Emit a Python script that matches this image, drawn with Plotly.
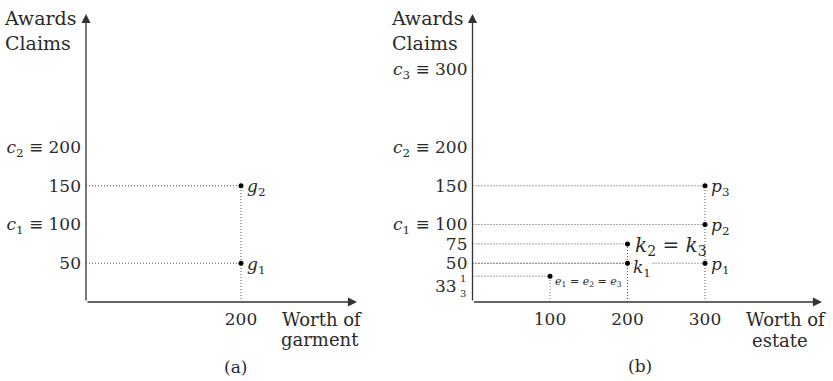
import plotly.graph_objects as go

# ---- data -------------------------------------------------------------
# (a) one garment worth 200, two claimants
garment_worth = [200, 200]
garment_awards = [50, 150]
garment_labels = ["<i>g</i><sub>1</sub>", "<i>g</i><sub>2</sub>"]
garment_claims = [100, 200]

# (b) estate of worth 100, 200, 300, three claimants
estate_worth = [100, 200, 200, 300, 300, 300]
estate_awards = [100 / 3, 50, 75, 50, 100, 150]
estate_claims = [100, 200, 300]

x_ticks_a = [200]
x_ticks_b = [100, 200, 300]
y_ticks_a = [50, 100, 150, 200]
y_text_a = ["50", "<i>c</i><sub>1</sub> \u2261 100", "150", "<i>c</i><sub>2</sub> \u2261 200"]
y_ticks_b = [50, 75, 100, 150, 200, 300]
y_text_b = ["50", "75", "<i>c</i><sub>1</sub> \u2261 100", "150",
            "<i>c</i><sub>2</sub> \u2261 200", "<i>c</i><sub>3</sub> \u2261 300"]

W, H = 833, 381
FONT = "DejaVu Serif"
INK = "#2a2a2a"
AXIS = "#333333"
GUIDE = "#555555"
SCALE = 0.775  # pixels per unit on both panels

def px(x):
    return x / W

def py(y):
    return 1 - y / H

# plotting areas (origin and arrow tips, in pixels)
A_X0, A_X1 = 86, 357
B_X0, B_X1 = 472.5, 822
Y0, Y1 = 302, 14

fig = go.Figure()

def guide(xs, ys, xa, ya, color=GUIDE):
    fig.add_trace(go.Scatter(x=xs, y=ys, mode="lines", xaxis=xa, yaxis=ya,
                             line=dict(color=color, width=1, dash="1px,2px"),
                             hoverinfo="skip", showlegend=False))

# panel (a) guides
for wx, aw in zip(garment_worth, garment_awards):
    guide([0, wx], [aw, aw], "x", "y")
guide([garment_worth[0], garment_worth[0]], [0, max(garment_awards)], "x", "y")

# panel (b) guides
for wx, aw in zip(estate_worth, estate_awards):
    guide([0, wx], [aw, aw], "x2", "y2")
for wx in sorted(set(estate_worth)):
    top = max(a for w_, a in zip(estate_worth, estate_awards) if w_ == wx)
    guide([wx, wx], [0, top], "x2", "y2", color="#777777" if wx == 100 else GUIDE)

# points
fig.add_trace(go.Scatter(x=garment_worth, y=garment_awards, mode="markers",
                         xaxis="x", yaxis="y", marker=dict(color="black", size=5),
                         hoverinfo="skip", showlegend=False))
fig.add_trace(go.Scatter(x=estate_worth, y=estate_awards, mode="markers",
                         xaxis="x2", yaxis="y2", marker=dict(color="black", size=5),
                         hoverinfo="skip", showlegend=False))

ann = []
shapes = []

# axes with arrowheads
for xr, yr, xmax, ymax in (("x", "y", (A_X1 - A_X0) / SCALE, (Y0 - Y1) / SCALE),
                           ("x2", "y2", (B_X1 - B_X0) / SCALE, (Y0 - Y1) / SCALE)):
    ann.append(dict(x=xmax, y=0, ax=0, ay=0, xref=xr, yref=yr, axref=xr, ayref=yr,
                    text="", showarrow=True, arrowhead=2, arrowsize=1.4,
                    arrowwidth=1.3, arrowcolor=AXIS, standoff=0, startstandoff=0))
    ann.append(dict(x=0, y=ymax, ax=0, ay=0, xref=xr, yref=yr, axref=xr, ayref=yr,
                    text="", showarrow=True, arrowhead=2, arrowsize=1.4,
                    arrowwidth=1.3, arrowcolor=AXIS, standoff=0, startstandoff=0))

# tick marks at claims
for xr, yr, vals in (("x", "y", garment_claims), ("x2", "y2", estate_claims + [100 / 3])):
    for v in vals:
        shapes.append(dict(type="line", xref=xr, yref=yr, xsizemode="pixel", xanchor=0,
                           x0=-5, x1=0, y0=v, y1=v, line=dict(color=AXIS, width=1.2)))

# point labels
def label(x, y, text, xr, yr, size=17, dx=4, dy=0):
    ann.append(dict(x=x, y=y, xref=xr, yref=yr, text=text, showarrow=False,
                    xanchor="left", yanchor="middle", xshift=dx, yshift=dy,
                    font=dict(family=FONT, size=size, color=INK)))

for wx, aw, t in zip(garment_worth, garment_awards, garment_labels):
    label(wx, aw, t, "x", "y", dy=-2)

label(300, 150, "<i>p</i><sub>3</sub>", "x2", "y2", dy=-2)
label(300, 100, "<i>p</i><sub>2</sub>", "x2", "y2", dy=-2)
label(300, 50, "<i>p</i><sub>1</sub>", "x2", "y2", dy=-2)
label(200, 75, "<i>k</i><sub>2</sub> = <i>k</i><sub>3</sub>", "x2", "y2", size=20, dx=5, dy=-2)
ann.append(dict(x=200, y=50, xref="x2", yref="y2",
                text="<i>k</i><sub>1</sub>", showarrow=False, xanchor="left",
                yanchor="middle", xshift=4, yshift=-5, bgcolor="white", borderpad=0,
                font=dict(family=FONT, size=17, color=INK)))
label(100, 100 / 3, "<i>e</i><sub>1</sub> = <i>e</i><sub>2</sub> = <i>e</i><sub>3</sub>",
      "x2", "y2", size=11, dx=3, dy=-6)

# 33 1/3 tick label with a stacked fraction
ann.append(dict(x=0, y=100 / 3, xref="x2", yref="y2", text="33", showarrow=False,
                xanchor="right", yanchor="middle", xshift=-14, yshift=-10,
                font=dict(family=FONT, size=17, color=INK)))
ann.append(dict(x=0, y=100 / 3, xref="x2", yref="y2", text="1", showarrow=False,
                xanchor="center", yanchor="middle", xshift=-9.5, yshift=-2,
                font=dict(family=FONT, size=10, color=INK)))
ann.append(dict(x=0, y=100 / 3, xref="x2", yref="y2", text="3", showarrow=False,
                xanchor="center", yanchor="middle", xshift=-9.5, yshift=-17,
                font=dict(family=FONT, size=10, color=INK)))
shapes.append(dict(type="line", xref="x2", yref="y2", xsizemode="pixel", ysizemode="pixel",
                   xanchor=0, yanchor=100 / 3, x0=-13, x1=-6, y0=-9, y1=-9,
                   line=dict(color=INK, width=0.8)))

# axis titles
for xr, yr in (("x", "y"), ("x2", "y2")):
    ann.append(dict(x=0, y=(Y0 - Y1) / SCALE, xref=xr, yref=yr, text="Awards<br>Claims",
                    showarrow=False, xanchor="right", yanchor="top", align="left",
                    xshift=-8, yshift=9, font=dict(family=FONT, size=19, color=INK)))

def text(x, y, t, size=18):
    ann.append(dict(x=px(x), y=py(y), xref="paper", yref="paper", text=t,
                    showarrow=False, xanchor="center", yanchor="middle",
                    font=dict(family=FONT, size=size, color=INK)))

text(322, 319, "Worth of")
text(320, 339, "garment")
text(786, 319, "Worth of")
text(780, 340, "estate")
text(235, 367, "(a)", size=17)
text(640, 366, "(b)", size=17)

axis_common = dict(showgrid=False, zeroline=False, showline=False, ticks="",
                   tickfont=dict(family=FONT, size=17, color=INK))

fig.update_layout(
    width=W, height=H, margin=dict(l=0, r=0, t=0, b=0),
    paper_bgcolor="white", plot_bgcolor="white", showlegend=False,
    font=dict(family=FONT),
    annotations=ann, shapes=shapes,
    xaxis=dict(domain=[px(A_X0), px(A_X1)], range=[0, (A_X1 - A_X0) / SCALE],
               tickvals=x_ticks_a, ticklabelstandoff=5, anchor="y", **axis_common),
    yaxis=dict(domain=[py(Y0), py(Y1)], range=[0, (Y0 - Y1) / SCALE],
               tickvals=y_ticks_a, ticktext=y_text_a, ticklabelstandoff=4,
               anchor="x", **axis_common),
    xaxis2=dict(domain=[px(B_X0), px(B_X1)], range=[0, (B_X1 - B_X0) / SCALE],
                tickvals=x_ticks_b, ticklabelstandoff=5, anchor="y2", **axis_common),
    yaxis2=dict(domain=[py(Y0), py(Y1)], range=[0, (Y0 - Y1) / SCALE],
                tickvals=y_ticks_b, ticktext=y_text_b, ticklabelstandoff=4,
                anchor="x2", **axis_common),
)

fig.write_html("out.html")
